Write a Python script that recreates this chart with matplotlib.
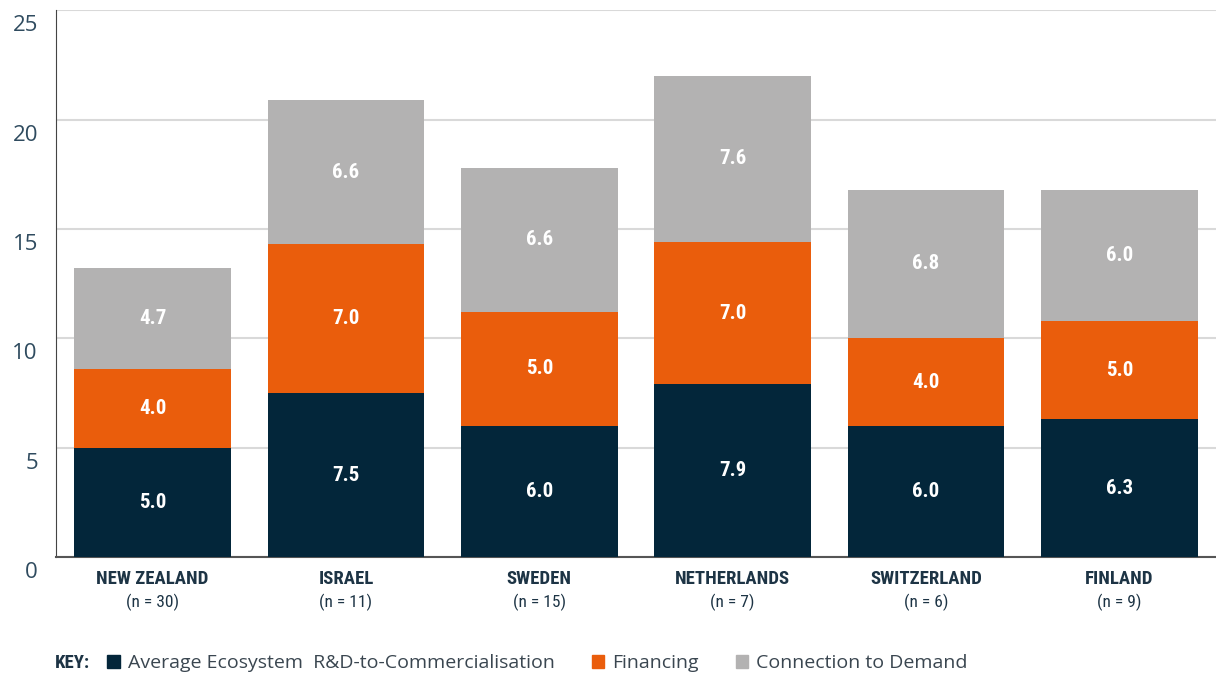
import matplotlib
matplotlib.use("Agg")
import matplotlib.pyplot as plt
import matplotlib.transforms as mtransforms
from matplotlib.patches import Patch
import numpy as np

# data
countries = ["NEW ZEALAND", "ISRAEL", "SWEDEN", "NETHERLANDS", "SWITZERLAND", "FINLAND"]
sample_sizes = ["(n = 30)", "(n = 11)", "(n = 15)", "(n = 7)", "(n = 6)", "(n = 9)"]
ecosystem = [5.0, 7.5, 6.0, 7.9, 6.0, 6.3]
financing = [3.6, 6.8, 5.2, 6.5, 4.0, 4.5]
demand = [4.6, 6.6, 6.6, 7.6, 6.8, 6.0]
ecosystem_labels = ["5.0", "7.5", "6.0", "7.9", "6.0", "6.3"]
financing_labels = ["4.0", "7.0", "5.0", "7.0", "4.0", "5.0"]
demand_labels = ["4.7", "6.6", "6.6", "7.6", "6.8", "6.0"]
series_names = ["Average Ecosystem  R&D-to-Commercialisation", "Financing", "Connection to Demand"]

NAVY = "#03263a"
ORANGE = "#ea5d0c"
GREY = "#b3b2b2"
TEXT = "#1d3445"
COND = ["Roboto Condensed", "DejaVu Sans"]

fig = plt.figure(figsize=(12.16, 6.81), dpi=100)
ax = fig.add_axes([0.046, 0.182, 0.954, 0.803])

x = np.arange(len(countries))
width = 0.81
bottoms = np.zeros(len(countries))
for vals, labels, col in [(ecosystem, ecosystem_labels, NAVY),
                          (financing, financing_labels, ORANGE),
                          (demand, demand_labels, GREY)]:
    bars = ax.bar(x, vals, width, bottom=bottoms, color=col, zorder=3)
    ax.bar_label(bars, labels=labels, label_type="center", color="white",
                 fontsize=15, family=COND, fontstretch="condensed", fontweight="bold")
    bottoms += np.array(vals)

ax.set_xlim(-0.5, 5.5)
ax.set_ylim(0, 25)
ax.set_yticks([0, 5, 10, 15, 20, 25])
ax.grid(axis="y", color="#d9d9d9", linewidth=1.5, zorder=0)
ax.tick_params(axis="y", length=0, pad=13, labelsize=16, labelcolor="#2f4b5f")
for lab in ax.get_yticklabels():
    lab.set_family(["Open Sans", "DejaVu Sans"])
    lab.set_transform(lab.get_transform() +
                      mtransforms.ScaledTranslation(0, -13 / 100, fig.dpi_scale_trans))

ax.set_xticks(x)
ax.set_xticklabels([])
ax.tick_params(axis="x", length=0)
for i in range(len(countries)):
    ax.text(x[i], -1.0, countries[i], ha="center", va="center", fontsize=13.5,
            family=COND, fontstretch="condensed", fontweight="bold", color=TEXT)
    ax.text(x[i], -2.05, sample_sizes[i], ha="center", va="center", fontsize=12.5,
            family=COND, fontstretch="condensed", color=TEXT)

for side in ["top", "right"]:
    ax.spines[side].set_visible(False)
ax.spines["left"].set_color("#444444")
ax.spines["bottom"].set_color("#555555")
ax.spines["bottom"].set_linewidth(1.5)

fig.text(0.045, 0.026, "KEY:", ha="left", va="center", fontsize=13.5,
         family=COND, fontstretch="condensed", fontweight="bold", color=TEXT)
handles = [Patch(color=c) for c in [NAVY, ORANGE, GREY]]
leg = fig.legend(handles, series_names, loc="center left", ncol=3,
                 bbox_to_anchor=(0.082, 0.026), frameon=False,
                 handlelength=0.65, handleheight=0.65, handletextpad=0.4,
                 columnspacing=1.9, borderaxespad=0,
                 prop={"family": ["Open Sans", "DejaVu Sans"], "size": 14})
for t in leg.get_texts():
    t.set_color("#3a4650")

fig.savefig("out.png", dpi=100)
